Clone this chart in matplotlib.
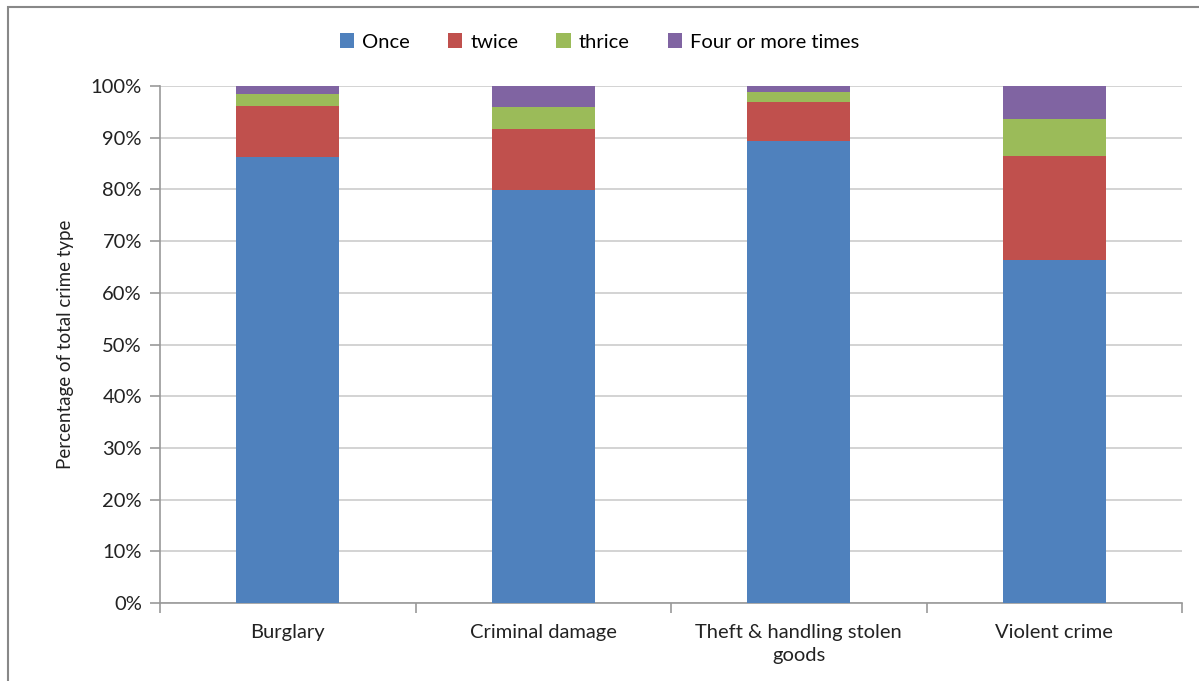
import numpy as np
import matplotlib.pyplot as plt
from matplotlib.patches import Rectangle
from matplotlib.ticker import PercentFormatter, FixedLocator

categories = ['Burglary', 'Criminal damage', 'Theft & handling stolen\ngoods', 'Violent crime']
once = [86.3, 79.9, 89.4, 66.3]
twice = [9.8, 11.7, 7.6, 20.2]
thrice = [2.3, 4.3, 1.9, 7.1]
four_plus = [1.6, 4.1, 1.1, 6.4]

series = [
    ('Once', once, '#4F81BD'),
    ('twice', twice, '#C0504D'),
    ('thrice', thrice, '#9BBB59'),
    ('Four or more times', four_plus, '#8064A2'),
]

plt.rcParams['font.family'] = ['Lato', 'DejaVu Sans']

fig = plt.figure(figsize=(11.99, 6.81), dpi=100)
ax = fig.add_axes([160 / 1199, 1 - 603 / 681, (1182 - 160) / 1199, (603 - 86) / 681])

x = np.arange(len(categories))
bottom = np.zeros(len(categories))
for label, vals, color in series:
    ax.bar(x, vals, bottom=bottom, width=0.405, color=color, label=label, zorder=3)
    bottom += np.array(vals)

ax.set_xlim(-0.5, len(categories) - 0.5)
ax.set_ylim(0, 100)
ax.set_yticks(np.arange(0, 101, 10))
ax.yaxis.set_major_formatter(PercentFormatter(decimals=0))
ax.grid(axis='y', color='#d0d0d0', linewidth=1.3, zorder=0)

ax.set_xticks(x)
ax.set_xticklabels(categories, fontsize=14.5, color='#222222', linespacing=1.45)
ax.xaxis.set_minor_locator(FixedLocator(np.arange(-0.5, len(categories), 1)))
ax.tick_params(axis='x', which='major', length=0, pad=15)
ax.tick_params(axis='x', which='minor', length=7, color='#999999', width=1.2)
ax.tick_params(axis='y', length=7, color='#999999', width=1.2, labelsize=14.5, labelcolor='#222222', pad=6)

for side in ['top', 'right']:
    ax.spines[side].set_visible(False)
for side in ['left', 'bottom']:
    ax.spines[side].set_color('#999999')
    ax.spines[side].set_linewidth(1.2)

ax.set_ylabel('Percentage of total crime type', fontsize=13.5, color='#222222', labelpad=12)

ax.legend(loc='center', bbox_to_anchor=(0.5, 1 - 42 / 681), bbox_transform=fig.transFigure,
          ncol=4, frameon=False, fontsize=14.5, handlelength=0.7, handleheight=0.7,
          handletextpad=0.4, columnspacing=1.9)

fig.patches.append(Rectangle((8 / 1199, -0.05), 1.2, 1 - 7 / 681 + 0.05, transform=fig.transFigure,
                             fill=False, edgecolor='#888888', linewidth=1.5))

fig.savefig('out.png', dpi=100)
